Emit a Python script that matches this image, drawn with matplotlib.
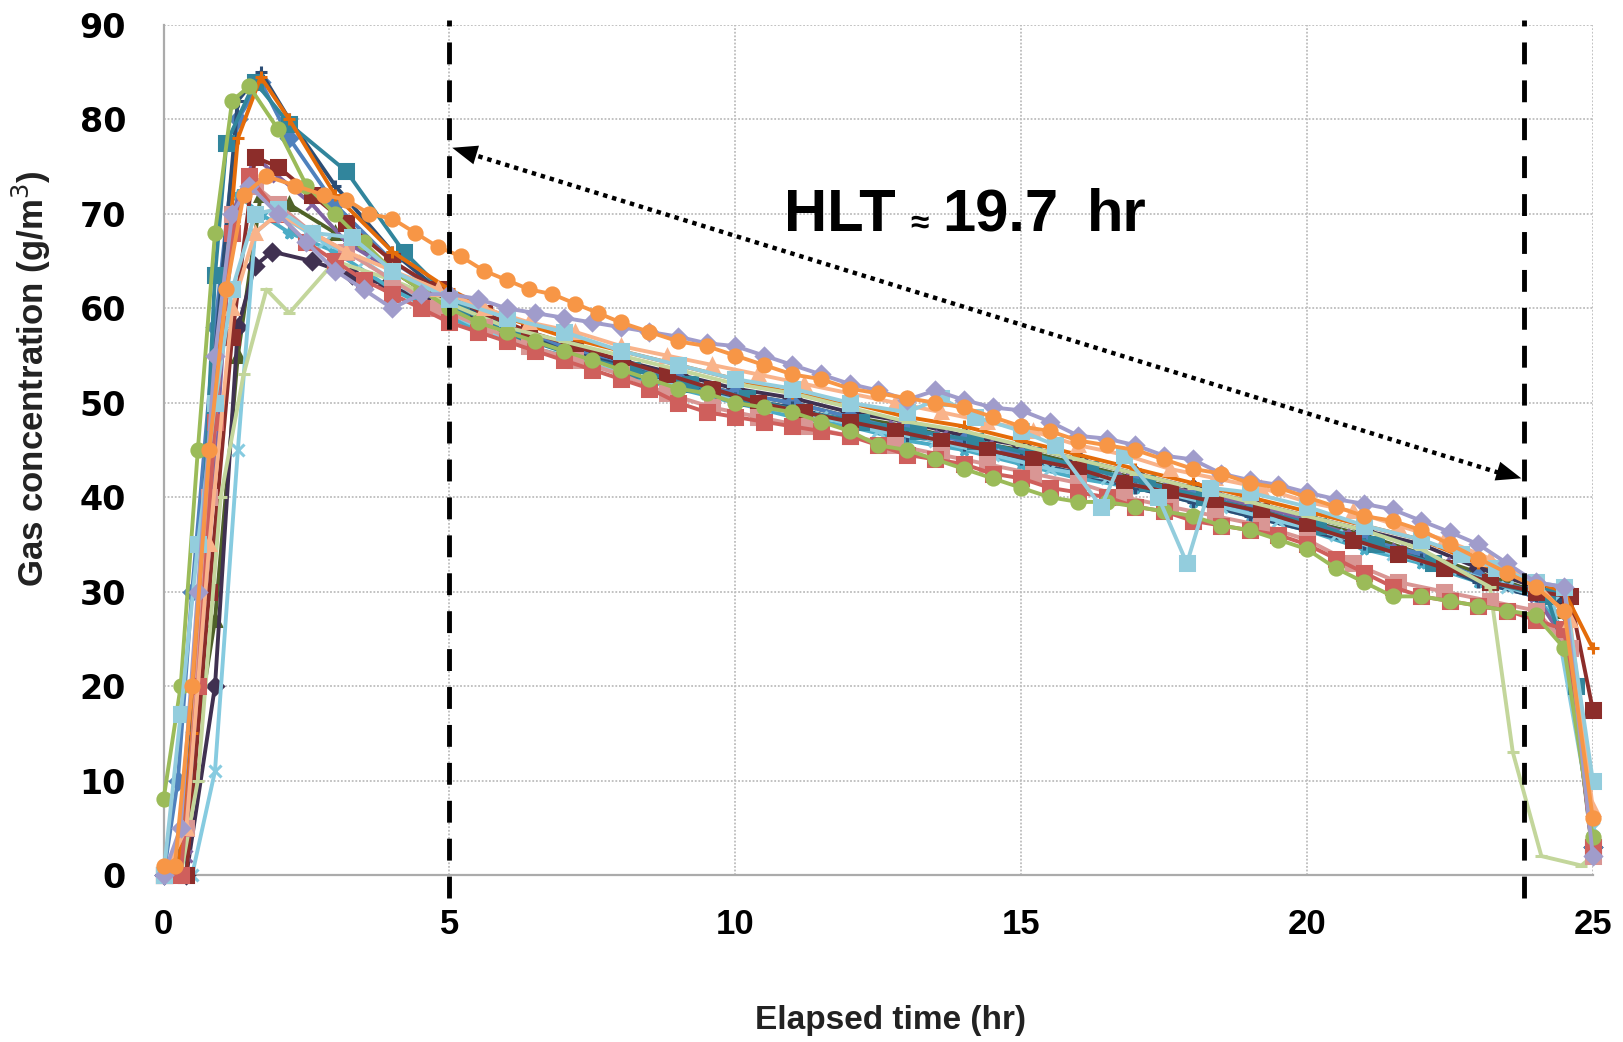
import matplotlib
matplotlib.use("Agg")
import matplotlib.pyplot as plt

# sampling times (hr) used by the different runs
t_a = [0.0, 0.3, 0.6, 0.9, 1.2, 1.5, 2.0, 2.5, 3.0, 3.5, 4.0, 4.5, 5.0, 5.5, 6.0, 6.5, 7.0, 7.5,
       8.0, 8.5, 9.0, 9.5, 10.0, 10.5, 11.0, 11.5, 12.0, 12.5, 13.0, 13.5, 14.0, 14.5, 15.0, 15.5,
       16.0, 16.5, 17.0, 17.5, 18.0, 18.5, 19.0, 19.5, 20.0, 20.5, 21.0, 21.5, 22.0, 22.5, 23.0,
       23.5, 24.0, 24.5, 25.0]
t_b = [0.0, 0.4, 0.8, 1.2, 1.6, 2.0, 2.6, 3.2, 4.0, 4.8, 5.6, 6.4, 7.2, 8.0, 8.8, 9.6, 10.4, 11.2,
       12.0, 12.8, 13.6, 14.4, 15.2, 16.0, 16.8, 17.6, 18.4, 19.2, 20.0, 20.8, 21.6, 22.4, 23.2,
       24.0, 24.6, 25.0]
t_c = [0.0, 0.25, 0.5, 0.9, 1.3, 1.7, 2.2, 3.0, 4.0, 5.0, 6.0, 7.0, 8.0, 9.0, 10.0, 11.0, 12.0,
       13.0, 14.0, 15.0, 16.0, 17.0, 18.0, 19.0, 20.0, 21.0, 22.0, 23.0, 24.0, 24.5, 25.0]
t_o = [0.0, 0.2, 0.5, 0.8, 1.1, 1.4, 1.8, 2.3, 2.8, 3.2, 3.6, 4.0, 4.4, 4.8, 5.2, 5.6, 6.0, 6.4,
       6.8, 7.2, 7.6, 8.0, 8.5, 9.0, 9.5, 10.0, 10.5, 11.0, 11.5, 12.0, 12.5, 13.0, 13.5, 14.0,
       14.5, 15.0, 15.5, 16.0, 16.5, 17.0, 17.5, 18.0, 18.5, 19.0, 19.5, 20.0, 20.5, 21.0, 21.5,
       22.0, 22.5, 23.0, 23.5, 24.0, 24.5, 25.0]
t_teal = [0.0, 0.4, 0.9, 1.1, 1.6, 2.2, 3.2, 4.2, 5.2, 6.2, 7.2, 8.2, 9.2, 10.2, 11.2, 12.2, 13.2,
          14.2, 15.2, 16.2, 17.2, 18.2, 19.2, 20.2, 21.2, 22.2, 23.2, 24.2, 24.7, 25.0]
t_lblue = [0.0, 0.3, 0.6, 0.9, 1.2, 1.6, 2.0, 2.6, 3.3, 4.0, 5.0, 6.0, 7.0, 8.0, 9.0, 10.0, 11.0,
           12.0, 13.0, 13.6, 14.2, 15.0, 15.6, 16.4, 16.8, 17.4, 17.9, 18.3, 19.0, 20.0, 21.0,
           22.0, 22.7, 23.3, 24.0, 24.5, 25.0]
t_sage = [0.0, 0.3, 0.6, 1.0, 1.4, 1.8, 2.2, 3.0, 4.0, 5.0, 6.0, 7.0, 8.0, 9.0, 10.0, 11.0, 12.0,
          13.0, 14.0, 15.0, 16.0, 17.0, 18.0, 19.0, 20.0, 21.0, 22.0, 23.2, 23.6, 24.1, 24.8, 25.0]
t_navy = [0.0, 0.4, 0.9, 1.3, 1.6, 1.9, 2.6, 3.3, 3.9, 4.5, 5.2, 6.0, 7.0, 8.0, 9.0, 10.0, 11.0,
          12.0, 13.0, 14.0, 15.0, 16.0, 17.0, 18.0, 19.0, 20.0, 21.0, 22.0, 23.0, 24.0, 24.5, 25.0]
t_x = [0.0, 0.5, 0.9, 1.3, 1.6, 2.0, 2.8, 3.5, 4.5, 5.5, 6.5, 7.5, 8.5, 9.5, 10.5, 11.5, 12.5,
       13.5, 14.5, 15.5, 16.5, 17.5, 18.5, 19.5, 20.5, 21.5, 22.5, 23.5, 24.3, 25.0]

# gas concentration (g/m3) of each run
c_red = [0, 0, 20, 48, 68, 74, 70, 67, 65, 63, 61.5, 60, 58.5, 57.5, 56.5, 55.5, 54.5, 53.5, 52.5,
         51.5, 50, 49, 48.5, 48, 47.5, 47, 46.5, 45.5, 44.5, 44, 43.5, 42.5, 42, 41, 40.5, 40, 39,
         38.5, 37.5, 37, 36.5, 36, 35, 33.5, 32, 30.5, 29.5, 29, 28.5, 28, 27, 26, 3]
c_lred = [0, 5, 40, 70, 73, 71, 68, 66, 63, 60, 58, 56, 54.5, 53, 51, 49.5, 48.5, 47.5, 46.5, 45.5,
          44.5, 43.5, 42.5, 41.5, 40, 39, 38, 37, 35.5, 33, 31, 30, 29, 28, 24, 2]
c_blue = [0, 10, 30, 58, 80, 84, 78, 71, 65, 61, 58, 56, 54, 52.5, 51, 50, 48.5, 47, 46, 44.5,
          43, 41.5, 40, 38.5, 37, 35.5, 34, 31.5, 30, 28, 3]
c_green = [8, 20, 45, 68, 82, 83.5, 79, 73, 70, 67, 64, 62, 60, 58.5, 57.5, 56.5, 55.5, 54.5, 53.5,
           52.5, 51.5, 51, 50, 49.5, 49, 48, 47, 45.5, 45, 44, 43, 42, 41, 40, 39.5, 39.5, 39,
           38.5, 38, 37, 36.5, 35.5, 34.5, 32.5, 31, 29.5, 29.5, 29, 28.5, 28, 27.5, 24, 4]
c_purple = [0, 2, 35, 70, 76, 74, 71, 67, 64, 61, 59, 57, 55.5, 54, 52.5, 51, 50, 49, 48, 47.5,
            46.5, 45.5, 44.5, 43, 42, 41, 40, 39, 37.5, 36, 34.5, 33, 31, 29.5, 24, 2]
c_aqua = [0, 0, 15, 50, 72, 70, 68, 66, 62, 59, 56.5, 55, 53, 51.5, 50, 48.5, 47.5, 46, 45, 43.5,
          42, 41, 39.5, 38, 36.5, 34.5, 33, 31, 29.5, 26, 3]
c_orange = [1, 1, 20, 45, 62, 72, 74, 73, 72, 71.5, 70, 69.5, 68, 66.5, 65.5, 64, 63, 62, 61.5,
            60.5, 59.5, 58.5, 57.5, 56.5, 56, 55, 54, 53, 52.5, 51.5, 51, 50.5, 50, 49.5, 48.5,
            47.5, 47, 46, 45.5, 45, 44, 43, 42.5, 41.5, 41, 40, 39, 38, 37.5, 36.5, 35, 33.5, 32,
            30.5, 28, 6]
c_dblue = [0, 0, 20, 55, 82, 85, 80, 73, 66, 61, 58, 55.5, 54, 52, 50.5, 49.5, 48, 46.5, 45.5, 44,
           42.5, 41, 39.5, 38, 36.5, 35, 33.5, 31, 29.5, 29, 4]
c_dred = [0, 0, 30, 57, 76, 75, 72, 69, 65, 62, 59.5, 57.5, 56, 54.5, 53, 51.5, 50, 49, 48, 47,
          46, 45, 44, 43, 41.5, 40.5, 39.5, 38.5, 37, 35.5, 34, 32.5, 31, 30, 29.5, 17.5]
c_teal = [0, 0, 63.5, 77.5, 84, 79.5, 74.5, 66, 60, 57, 55, 53.5, 52, 50.5, 49, 48, 47, 46, 44.5,
          43, 41.5, 40, 38.5, 37, 35, 33, 31, 29.5, 20, 3]
c_lav = [0, 5, 30, 55, 70, 73, 70, 67, 64, 62, 60, 61.5, 61.5, 61, 60, 59.5, 59, 58.5, 58, 57.5,
         57, 56.3, 56, 55, 54, 53, 52, 51.3, 50.3, 51.3, 50.3, 49.5, 49.2, 48, 46.5, 46.2, 45.5,
         44.4, 44, 42.5, 41.8, 41.3, 40.5, 39.8, 39.3, 38.7, 37.5, 36.3, 35, 33, 31, 30.5, 2]
c_lblue = [0, 17, 35, 50, 62, 70, 70.5, 68, 67.5, 64, 61, 59, 57.5, 55.5, 54, 52.5, 51.5, 50, 49,
           50.5, 48.5, 47, 45.5, 39, 44.5, 40, 33, 41, 40.5, 39, 37, 35.5, 34, 32.5, 31, 30.5, 10]
c_sage = [0, 0, 10, 40, 53, 62, 59.5, 65, 63, 60.5, 58, 56.5, 55, 53.5, 52, 51, 49.5, 48, 47,
          45.5, 44, 42.5, 41, 39.5, 38, 36.5, 34.5, 30.5, 13, 2, 1, 2]
c_peach = [0, 5, 35, 60, 68, 70, 68, 66, 64, 62, 60, 58.5, 57.5, 56, 55, 54, 53, 52, 51, 50, 49,
           48, 47, 45.5, 44.5, 43, 42, 41, 39.5, 38.5, 37, 35.5, 33.5, 31, 27, 7]
c_dgreen = [0, 3, 12, 27, 55, 72, 71, 68, 64, 60, 57.5, 55.5, 54, 52.5, 51, 50, 48.5, 47.5, 46, 45,
            43.5, 42, 40.5, 39, 37.5, 36, 34, 32, 30, 28, 2]
c_navy = [0, 0, 20, 58, 64.5, 66, 65, 63.5, 62.5, 61, 59.5, 57.5, 56, 54.5, 53, 51.5, 50.5, 49,
          48, 46.5, 45.5, 44, 42.5, 41, 39.5, 38, 36.5, 35, 32.5, 30.5, 29, 3]
c_cyan = [0, 0, 11, 45, 68, 70, 67, 65, 61, 58, 55.5, 54, 52.5, 51, 49.5, 48.5, 47, 46, 44.5, 43,
          42, 40.5, 39, 37.5, 36, 34, 32.5, 30.5, 29, 5]
c_rorange = [0, 0, 15, 50, 78, 84.5, 80, 72, 66, 62, 59, 57, 55.5, 54, 52.5, 51, 50, 48.5, 47.5,
             46, 44.5, 43, 41.5, 40, 38.5, 37, 35.5, 33, 31, 30, 24]

hlt_start = 5.0
hlt_end = 23.8

series = [
    (t_c, c_dgreen, "#4F6228", "^"),
    (t_navy, c_navy, "#403151", "D"),
    (t_c, c_aqua, "#4BACC6", "*"),
    (t_b, c_purple, "#8064A2", "x"),
    (t_c, c_blue, "#4F81BD", "D"),
    (t_c, c_dblue, "#2C4D75", "+"),
    (t_x, c_cyan, "#86CBE0", "x"),
    (t_teal, c_teal, "#31859C", "s"),
    (t_b, c_dred, "#8C2D2A", "s"),
    (t_c, c_rorange, "#E46C0A", "+"),
    (t_sage, c_sage, "#C3D69B", "_"),
    (t_b, c_lred, "#D99694", "s"),
    (t_a, c_red, "#CF5F5C", "s"),
    (t_a, c_green, "#9BBB59", "o"),
    (t_b, c_peach, "#F9B38A", "^"),
    (t_lblue, c_lblue, "#93CDDD", "s"),
    (t_a, c_lav, "#A09CCB", "D"),
    (t_o, c_orange, "#F79646", "o"),
]

fig = plt.figure(figsize=(16.24, 10.42), dpi=100)
ax = fig.add_axes([0.1007, 0.1603, 0.8801, 0.8157])

for t, c, col, m in series:
    ms = 9.5 if m in ("o", "s") else 8.5
    ax.plot(t, c, color=col, lw=2.8, marker=m, ms=ms, mec=col, mfc=col, mew=2.2,
            clip_on=False, zorder=3)

ax.set_xlim(0, 25)
ax.set_ylim(0, 90)
ax.set_xticks(range(0, 26, 5))
ax.set_yticks(range(0, 91, 10))
ax.grid(True, color="#BDBDBD", linestyle=(0, (1, 1)), lw=1.3, zorder=0)
for s in ("top", "right"):
    ax.spines[s].set_visible(False)
for s in ("left", "bottom"):
    ax.spines[s].set_color("#ABABAB")
    ax.spines[s].set_linewidth(1.6)
ax.tick_params(length=0)
ax.tick_params(axis="y", pad=27)
ax.tick_params(axis="x", pad=24)
for lab in ax.get_yticklabels():
    lab.set_fontfamily("DejaVu Sans")
    lab.set_fontweight("bold")
    lab.set_fontsize(24)
for lab in ax.get_xticklabels():
    lab.set_fontfamily(["Liberation Sans Narrow", "Liberation Sans", "DejaVu Sans"])
    lab.set_fontweight("bold")
    lab.set_fontsize(25)

fig.text(0.5485, 0.0211, "Elapsed time (hr)", ha="center", va="center", fontsize=24,
         fontweight="bold", family=["Liberation Sans", "DejaVu Sans"], color="#222222")
fig.text(0.0191, 0.6363, "Gas concentration (g/m$^3$)", ha="center", va="center", rotation=90,
         fontsize=25, fontweight="bold", family=["Liberation Sans", "DejaVu Sans"], color="#222222")

# half-life window
for xv in (hlt_start, hlt_end):
    ax.plot([xv, xv], [-2.4, 90.5], color="black", lw=3.5, linestyle=(0, (4.5, 3.3)),
            clip_on=False, zorder=5)

ax.plot([hlt_start + 0.35, hlt_end - 0.45], [76.4, 42.6], color="black", lw=3.2,
        linestyle=(0, (1, 1.1)), zorder=6)
ax.annotate("", xy=(hlt_start + 0.05, 77.0), xytext=(hlt_start + 0.6, 76.0),
            arrowprops=dict(arrowstyle="-|>,head_length=1.8,head_width=0.7", color="black",
                            lw=0, shrinkA=0, shrinkB=0), zorder=6)
ax.annotate("", xy=(hlt_end - 0.05, 42.0), xytext=(hlt_end - 0.6, 43.0),
            arrowprops=dict(arrowstyle="-|>,head_length=1.8,head_width=0.7", color="black",
                            lw=0, shrinkA=0, shrinkB=0), zorder=6)
# label pieces: the approx sign is set smaller, as in the original
font_hlt = dict(fontsize=43, fontweight="bold", family=["Liberation Sans", "DejaVu Sans"], zorder=6)
ax.text(12.81, 69.8, "HLT", ha="right", va="center", **font_hlt)
ax.text(13.22, 68.9, "\u2248", ha="center", va="center", fontsize=24, fontweight="bold",
        family=["Liberation Sans", "DejaVu Sans"], zorder=6)
ax.text(13.62, 69.8, "19.7", ha="left", va="center", **font_hlt)
ax.text(16.15, 69.8, "hr", ha="left", va="center", **font_hlt)

fig.savefig("out.png", dpi=100)
